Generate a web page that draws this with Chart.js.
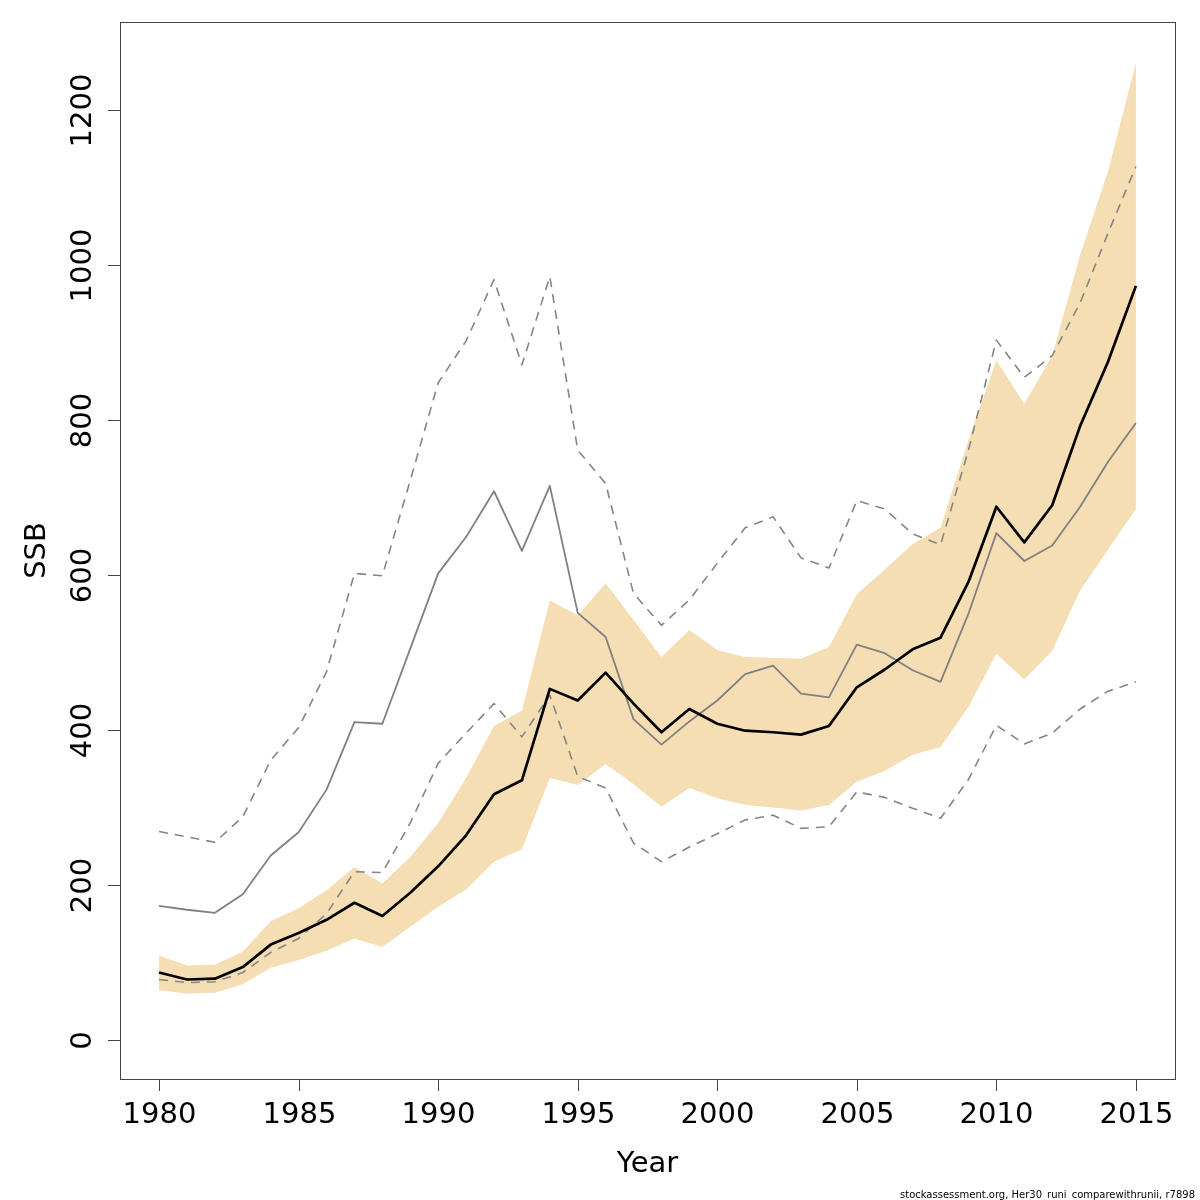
<!DOCTYPE html>
<html>
<head>
<meta charset="utf-8">
<script src="https://cdn.jsdelivr.net/npm/chart.js@4/dist/chart.umd.min.js"></script>
<style>
  html, body { margin: 0; padding: 0; background: #fff; }
  canvas { display: block; }
</style>
</head>
<body>
<canvas id="ssbChart" width="1200" height="1200"></canvas>
<script>
// values
const years = [1980, 1981, 1982, 1983, 1984, 1985, 1986, 1987, 1988, 1989,
               1990, 1991, 1992, 1993, 1994, 1995, 1996, 1997, 1998, 1999,
               2000, 2001, 2002, 2003, 2004, 2005, 2006, 2007, 2008, 2009,
               2010, 2011, 2012, 2013, 2014, 2015];

const ssb = [87, 78, 79, 94, 123, 138, 155, 177, 160, 190,
             224, 264, 317, 335, 453, 438, 474, 434, 397, 427,
             408, 399, 397, 394, 405, 455, 478, 504, 519, 591,
             688, 642, 690, 792, 875, 973];
const ssbLow = [64, 60, 61, 72, 93, 103, 115, 131, 120, 146,
                172, 194, 230, 246, 338, 329, 356, 330, 301, 325,
                312, 303, 300, 296, 303, 333, 347, 368, 378, 430,
                498, 465, 502, 580, 633, 685];
const ssbHigh = [109, 96, 97, 114, 153, 170, 193, 223, 202, 236,
                 280, 338, 405, 425, 567, 548, 589, 542, 494, 529,
                 503, 494, 493, 492, 507, 575, 607, 640, 661, 774,
                 877, 821, 883, 1013, 1121, 1261];

// comparison run
const other = [173, 168, 164, 188, 238, 268, 323, 410, 408, 505,
               602, 649, 708, 631, 715, 551, 520, 414, 381, 411,
               438, 472, 483, 447, 442, 510, 499, 477, 462, 550,
               654, 618, 638, 688, 746, 796];
const otherHigh = [269, 262, 255, 288, 361, 403, 475, 602, 599, 722,
                   848, 902, 981, 871, 985, 761, 718, 576, 535, 568,
                   615, 661, 675, 622, 609, 696, 685, 653, 639, 761,
                   903, 855, 883, 951, 1041, 1127];
const otherLow = [78, 74, 75, 87, 113, 131, 163, 217, 216, 280,
                  357, 396, 434, 391, 445, 340, 325, 254, 230, 249,
                  266, 284, 290, 273, 275, 320, 313, 299, 286, 336,
                  406, 382, 396, 427, 450, 462];

const xTicks = [1980, 1985, 1990, 1995, 2000, 2005, 2010, 2015];
const yTicks = [0, 200, 400, 600, 800, 1000, 1200];

const FONT = '"DejaVu Sans", "Liberation Sans", sans-serif';

const toPoints = (vals) => vals.map((v, i) => ({ x: years[i], y: v }));

// R-style box, ticks and labels drawn from the chart's own scales
const baseAxes = {
    id: 'baseAxes',
    afterDraw(chart) {
        const ctx = chart.ctx;
        const area = chart.chartArea;
        const xs = chart.scales.x;
        const ys = chart.scales.y;
        const tick = 12;

        ctx.save();
        ctx.strokeStyle = '#444';
        ctx.lineWidth = 1;
        ctx.strokeRect(Math.round(area.left) + 0.5, Math.round(area.top) + 0.5,
                       Math.round(area.right - area.left), Math.round(area.bottom - area.top));

        ctx.fillStyle = '#000';
        ctx.font = '29px ' + FONT;

        // x axis
        ctx.textAlign = 'center';
        ctx.textBaseline = 'alphabetic';
        xTicks.forEach(t => {
            const px = Math.round(xs.getPixelForValue(t)) + 0.5;
            ctx.beginPath();
            ctx.moveTo(px, area.bottom);
            ctx.lineTo(px, area.bottom + tick);
            ctx.stroke();
            ctx.fillText(String(t), px, 1123);
        });

        // y axis
        yTicks.forEach(t => {
            const py = Math.round(ys.getPixelForValue(t)) + 0.5;
            ctx.beginPath();
            ctx.moveTo(area.left - tick, py);
            ctx.lineTo(area.left, py);
            ctx.stroke();
            ctx.save();
            ctx.translate(91, py);
            ctx.rotate(-Math.PI / 2);
            ctx.fillText(String(t), 0, 0);
            ctx.restore();
        });

        // titles
        ctx.fillText('Year', (area.left + area.right) / 2, 1172);
        ctx.save();
        ctx.translate(45, (area.top + area.bottom) / 2);
        ctx.rotate(-Math.PI / 2);
        ctx.fillText('SSB', 0, 0);
        ctx.restore();

        // footer
        ctx.font = '10px ' + FONT;
        ctx.textAlign = 'right';
        ctx.fillText('stockassessment.org, Her30_runi_comparewithrunii, r7898', 1195, 1198);
        ctx.restore();
    }
};

const ctx = document.getElementById('ssbChart').getContext('2d');
const ssbChart = new Chart(ctx, {
    type: 'line',
    data: {
        datasets: [
            {
                label: 'SSB',
                data: toPoints(ssb),
                borderColor: '#000',
                borderWidth: 2.7,
                order: 0
            },
            {
                label: 'SSB comparison',
                data: toPoints(other),
                borderColor: '#808080',
                borderWidth: 1.8,
                order: 1
            },
            {
                label: 'comparison high',
                data: toPoints(otherHigh),
                borderColor: '#858585',
                borderWidth: 1.6,
                borderDash: [9, 7],
                order: 2
            },
            {
                label: 'comparison low',
                data: toPoints(otherLow),
                borderColor: '#858585',
                borderWidth: 1.6,
                borderDash: [9, 7],
                order: 3
            },
            {
                label: 'ci low',
                data: toPoints(ssbLow),
                borderWidth: 0,
                borderColor: 'rgba(0,0,0,0)',
                fill: false,
                order: 4
            },
            {
                label: 'ci high',
                data: toPoints(ssbHigh),
                borderWidth: 0,
                borderColor: 'rgba(0,0,0,0)',
                backgroundColor: '#F5DEB3',
                fill: '-1',
                order: 5
            }
        ]
    },
    options: {
        responsive: false,
        animation: false,
        devicePixelRatio: 1,
        layout: {
            padding: { left: 120, right: 25, top: 22, bottom: 121 }
        },
        elements: {
            point: { radius: 0, hoverRadius: 0 },
            line: { tension: 0, borderJoinStyle: 'round' }
        },
        scales: {
            x: { type: 'linear', min: 1978.6, max: 2016.4, display: false },
            y: { type: 'linear', min: -50.4, max: 1313.5, display: false }
        },
        plugins: {
            legend: { display: false },
            tooltip: { enabled: false }
        }
    },
    plugins: [baseAxes]
});
</script>
</body>
</html>
